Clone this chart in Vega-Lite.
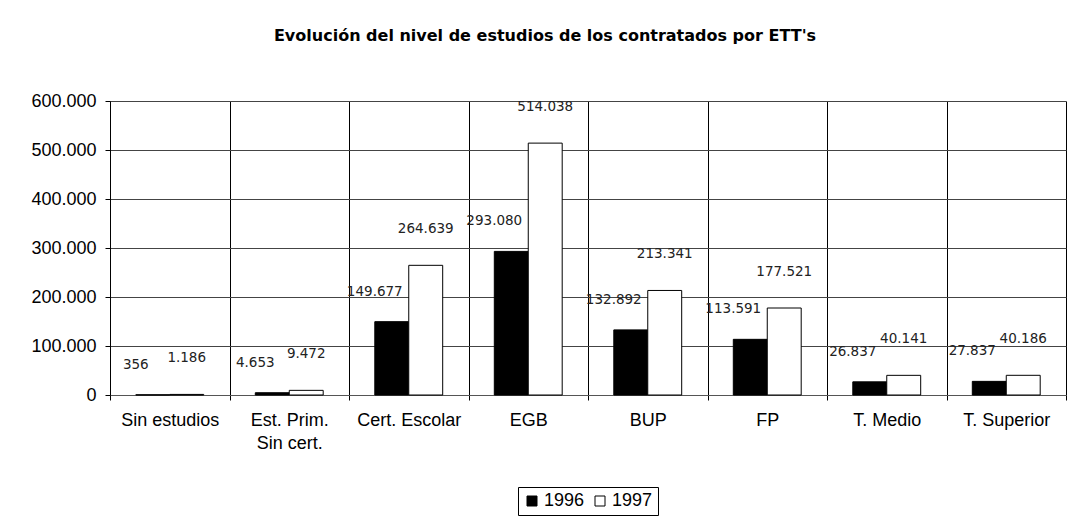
{
  "$schema": "https://vega.github.io/schema/vega-lite/v6.json",
  "width": 956,
  "height": 294,
  "autosize": {"type": "none"},
  "padding": {"left": 110, "top": 101, "right": 1, "bottom": 129},
  "background": "white",
  "title": {
    "text": "Evolución del nivel de estudios de los contratados por ETT's",
    "font": "DejaVu Sans",
    "fontSize": 16,
    "fontWeight": "bold",
    "color": "#000000",
    "anchor": "middle",
    "dx": -43,
    "offset": 48
  },
  "data": {
    "values": [
      {"nivel": "Sin estudios", "year": "1996", "value": 356},
      {"nivel": "Sin estudios", "year": "1997", "value": 1186},
      {"nivel": "Est. Prim. Sin cert.", "year": "1996", "value": 4653},
      {"nivel": "Est. Prim. Sin cert.", "year": "1997", "value": 9472},
      {"nivel": "Cert. Escolar", "year": "1996", "value": 149677},
      {"nivel": "Cert. Escolar", "year": "1997", "value": 264639},
      {"nivel": "EGB", "year": "1996", "value": 293080},
      {"nivel": "EGB", "year": "1997", "value": 514038},
      {"nivel": "BUP", "year": "1996", "value": 132892},
      {"nivel": "BUP", "year": "1997", "value": 213341},
      {"nivel": "FP", "year": "1996", "value": 113591},
      {"nivel": "FP", "year": "1997", "value": 177521},
      {"nivel": "T. Medio", "year": "1996", "value": 26837},
      {"nivel": "T. Medio", "year": "1997", "value": 40141},
      {"nivel": "T. Superior", "year": "1996", "value": 27837},
      {"nivel": "T. Superior", "year": "1997", "value": 40186}
    ]
  },
  "encoding": {
    "x": {
      "field": "nivel",
      "type": "nominal",
      "sort": null,
      "scale": {"paddingInner": 0, "paddingOuter": 0},
      "axis": {
        "title": null,
        "labelAngle": 0,
        "tickBand": "extent",
        "grid": true,
        "gridColor": "#000000",
        "gridWidth": 1,
        "tickColor": "#000000",
        "tickSize": 5,
        "domainColor": "#555555",
        "labelFont": "Liberation Sans",
        "labelFontSize": 18,
        "labelColor": "#000000",
        "labelPadding": 11,
        "labelLineHeight": 23,
        "labelBaseline": "top",
        "labelExpr": "datum.label == 'Est. Prim. Sin cert.' ? ['Est. Prim.', 'Sin cert.'] : datum.label"
      }
    },
    "xOffset": {
      "field": "year",
      "type": "nominal",
      "scale": {"paddingInner": 0, "paddingOuter": 0.76}
    },
    "y": {
      "field": "value",
      "type": "quantitative",
      "scale": {"domain": [0, 600000], "nice": false},
      "axis": {
        "title": null,
        "values": [0, 100000, 200000, 300000, 400000, 500000, 600000],
        "format": ",d",
        "grid": true,
        "gridColor": "#444444",
        "gridWidth": 1,
        "tickColor": "#000000",
        "tickSize": 5,
        "domainColor": "#000000",
        "labelFont": "Liberation Sans",
        "labelFontSize": 18,
        "labelColor": "#000000",
        "labelPadding": 9
      }
    }
  },
  "layer": [
    {
      "mark": {"type": "bar", "stroke": "#000000", "strokeWidth": 1},
      "encoding": {
        "fill": {
          "field": "year",
          "type": "nominal",
          "scale": {"domain": ["1996", "1997"], "range": ["#000000", "#ffffff"]},
          "legend": {
            "title": null,
            "orient": "none",
            "legendX": 408,
            "legendY": 386,
            "direction": "horizontal",
            "strokeColor": "#000000",
            "fillColor": "#ffffff",
            "padding": 5,
            "symbolType": "square",
            "symbolSize": 100,
            "symbolStrokeColor": "#000000",
            "symbolStrokeWidth": 1,
            "labelFont": "Liberation Sans",
            "labelFontSize": 18,
            "labelColor": "#000000",
            "labelOffset": 3,
            "columnPadding": 6
          }
        }
      }
    },
    {
      "transform": [{"filter": "datum.year == '1996'"}],
      "mark": {"type": "text", "font": "DejaVu Sans", "fontSize": 13.5, "color": "#222222", "baseline": "middle", "dx": -17, "dy": -30},
      "encoding": {"text": {"field": "value", "type": "quantitative", "format": ",d"}}
    },
    {
      "transform": [{"filter": "datum.year == '1997'"}],
      "mark": {"type": "text", "font": "DejaVu Sans", "fontSize": 13.5, "color": "#222222", "baseline": "middle", "dx": 0, "dy": -36},
      "encoding": {"text": {"field": "value", "type": "quantitative", "format": ",d"}}
    }
  ],
  "config": {
    "view": {"stroke": null},
    "locale": {
      "number": {"decimal": ",", "thousands": ".", "grouping": [3], "currency": ["", " €"]}
    }
  }
}
